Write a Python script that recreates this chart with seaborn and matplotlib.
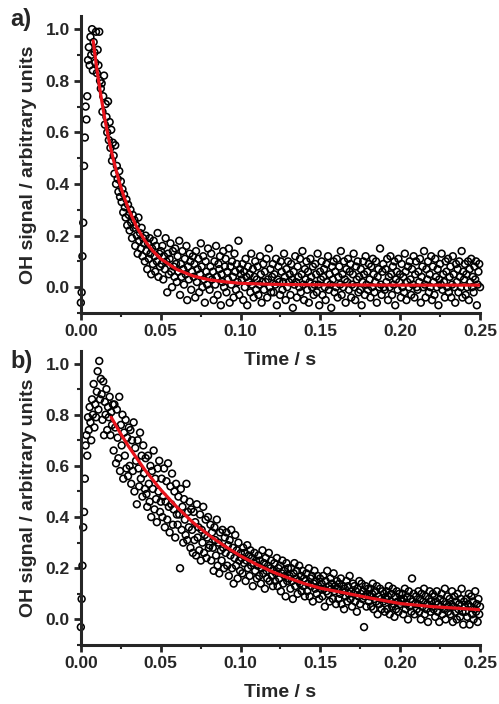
import numpy as np
import pandas as pd
import matplotlib
matplotlib.use("Agg")
import matplotlib.pyplot as plt
from matplotlib.ticker import MultipleLocator, FormatStrFormatter
import seaborn as sns

# ---------------- data (signal in hundredths of arbitrary units) ----------------
sig_a = [-6, -2, 12, 25, 47, 58, 70, 65, 74, 88, 93, 86, 97, 90, 100, 84, 95, 91, 87, 99, 83, 92, 86, 99, 80, 77,
         79, 68, 74, 82, 63, 71, 66, 60, 72, 57, 64, 54, 61, 49, 56,
         51, 44, 55, 40, 47, 42, 37, 45, 35, 41, 33, 38, 29, 36, 31, 27, 34, 24, 32, 28,
         22, 30, 25, 19, 28, 23, 26, 16, 24, 20, 13, 27, 18, 21, 15, 23, 12, 19, 17, 10,
         20, 14, 7, 17, 11, 19, 13, 5, 15, 9, 18, 12, 6, 16, 10, 21, 4, 13, 8, 14,
         9, 16, 3, 12, 7, 19, 10, -2, 13, 5, 11, 17, 6, 0, 14, 8, 4, 15, 9, 2,
         12, 6, 18, -3, 9, 4, 14, 7, 1, 11, 5, 16, -5, 8, 3, 13, 10, -1, 6, 12,
         4, 9, -4, 14, 2, 7, 11, -2, 5, 17, 8, 0, 12, 3, -6, 10, 6, 1, 15, 4,
         -1, 8, 13, 3, 6, -5, 10, 1, 16, 4, -3, 9, 7, 12, -7, 5, 2, 14, 0, 8,
         11, -2, 6, 3, 15, -6, 8, 1, 10, 4, -4, 13, 6, -1, 9, 2, 18, -3, 7, 5,
         3, 9, -5, 6, 0, 11, 4, -7, 8, 2, 5, -2, 13, 1, 7, -4, 4, 10, -1, 3,
         8, -3, 1, 12, 5, -6, 2, 9, -1, 6, 2, 11, -4, 3, 15, 0, 7, -2, 4, 9,
         -2, 5, 1, 11, -7, 3, 8, 2, -3, 10, 6, -1, 2, 13, 4, -5, 7, 0, 10, 2,
         5, -3, 9, 3, -8, 6, 1, 12, 2, -4, 8, 4, 0, 11, -2, 5, 14, 1, -5, 7,
         3, 10, -1, 6, -6, 2, 11, 4, 0, 8, -3, 1, 9, 5, -2, 13, 1, -7, 6, 3,
         10, -3, 4, 7, 0, -5, 9, 2, 12, -1, 5, 1, -8, 8, 3, 10, -2, 6, 0, 11,
         -4, 4, 8, 1, 14, -3, 5, 0, 10, 3, -6, 7, 2, 11, -1, 6, 9, -4, 1, 5,
         13, 0, -5, 8, 3, 10, -2, 4, -1, 7, -7, 2, 10, 5, -3, 12, 1, 6, -1, 9,
         3, -4, 8, 0, 11, 5, -2, 2, 10, -6, 4, 7, 0, 15, 1, -3, 6, 9, 0, -1,
         7, 2, 11, -5, 4, 0, 12, 5, -3, 8, 1, 10, -7, 3, 6, -1, 11, 2, 5, -4,
         9, 0, 4, -2, 13, 6, -5, 2, 8, 0, 10, 3, -3, 7, 1, 12, -4, 5, 10, 0,
         -1, 6, 2, 11, -6, 4, 8, 0, 14, 1, -4, 7, 3, 10, -2, 5, 0, 12, -5, 8,
         2, -3, 11, 4, 0, 7, -7, 3, 9, 1, 13, -1, 5, 2, -4, 10, 6, 0, 11, -2,
         4, 8, -4, 1, 12, 5, 0, -6, 9, 2, 7, -2, 10, 4, 0, 14, -4, 6, 3, 9,
         -3, 5, 0, 10, -5, 7, 2, 11, 0, 4, -2, 8, 3, 10, -7, 1, 6, 9, 0]

sig_b = [-3, 8, 21, 36, 42, 55, 68, 72, 64, 79, 74, 83, 77, 70, 86, 80, 92, 75, 84, 79, 89, 97, 82, 101, 86, 94,
         88, 78, 93, 72, 85, 80, 90, 74, 83, 79, 87, 72, 81, 76, 84,
         66, 84, 75, 61, 82, 71, 63, 87, 58, 76, 68, 80, 55, 73, 64, 78, 59, 71, 56, 75,
         60, 74, 53, 70, 58, 77, 50, 67, 62, 45, 70, 59, 52, 73, 55, 64, 48, 68, 57, 51,
         63, 49, 44, 64, 53, 46, 60, 40, 58, 51, 66, 43, 55, 47, 38, 59, 50, 62, 42, 46,
         55, 40, 48, 59, 36, 46, 54, 39, 61, 44, 34, 52, 45, 57, 37, 43, 50, 32, 53, 41,
         37, 48, 41, 20, 51, 35, 44, 30, 47, 39, 33, 53, 31, 42, 36, 46, 28, 43, 35, 26,
         42, 31, 38, 25, 45, 32, 36, 27, 41, 23, 35, 30, 44, 26, 33, 39, 24, 32, 40, 28,
         29, 37, 23, 34, 28, 19, 36, 31, 25, 39, 21, 30, 18, 34, 27, 23, 35, 28, 20, 32,
         26, 34, 21, 29, 17, 31, 25, 35, 20, 28, 14, 24, 33, 21, 27, 16, 30, 23, 19, 26,
         24, 18, 28, 22, 26, 15, 23, 29, 20, 25, 17, 27, 21, 24, 13, 22, 26, 19, 23, 16,
         21, 25, 17, 23, 14, 20, 27, 18, 22, 12, 24, 19, 16, 21, 26, 15, 20, 23, 17, 13,
         19, 22, 15, 18, 24, 13, 20, 16, 21, 11, 18, 23, 14, 19, 17, 9, 22, 15, 20, 16,
         17, 12, 20, 15, 8, 18, 22, 13, 16, 19, 10, 15, 21, 14, 17, 11, 19, 13, 16, 9,
         15, 18, 11, 14, 20, 9, 16, 13, 17, 7, 14, 19, 12, 15, 10, 17, 13, 8, 16, 12,
         14, 9, 17, 12, 5, 15, 11, 19, 10, 13, 7, 16, 12, 14, 8, 18, 11, 13, 6, 15,
         12, 8, 14, 10, 16, 6, 11, 13, 4, 12, 9, 15, 7, 13, 10, 17, 8, 11, 5, 14,
         10, 13, 7, 11, 3, 12, 9, 15, 6, 10, 14, 8, 11, -3, 9, 13, 5, 10, 12, 7,
         9, 12, 5, 10, 14, 4, 8, 11, 7, 13, 2, 9, 6, 12, 8, 4, 11, 7, 10, 3,
         8, 11, 4, 9, 13, 2, 7, 10, 5, 12, 6, 1, 9, 4, 11, 7, 3, 10, 6, 8,
         7, 10, 2, 8, 12, 4, 6, 9, 0, 11, 5, 8, 3, 16, 7, 10, 2, 6, 9, 4,
         6, 11, 3, 8, 0, 10, 5, 7, 12, 2, 9, 4, 6, -1, 8, 11, 3, 7, 5, 10,
         4, 9, 1, 7, 11, 3, 6, -1, 8, 5, 10, 2, 7, 4, 12, 0, 6, 9, 3, 5,
         8, 2, 6, 11, -1, 5, 9, 3, 7, 0, 10, 4, 6, 1, 8, 12, 3, -2, 7, 5,
         3, 8, 1, 6, 10, -2, 5, 9, 2, 7, 0, 4, 11, 3, 6, -1, 8, 2, 5]

fit_a_t = [0.0077, 0.010, 0.0125, 0.015, 0.0175, 0.020, 0.0225, 0.025, 0.0275, 0.030,
           0.035, 0.040, 0.045, 0.050, 0.060, 0.070, 0.080, 0.090, 0.100, 0.120,
           0.150, 0.200, 0.250]
fit_a_y = [0.955, 0.847, 0.744, 0.653, 0.573, 0.504, 0.443, 0.389, 0.342, 0.301,
           0.233, 0.181, 0.141, 0.110, 0.069, 0.044, 0.029, 0.021, 0.015, 0.011,
           0.009, 0.008, 0.008]

fit_b_t = [0.019, 0.025, 0.030, 0.040, 0.050, 0.060, 0.070, 0.080, 0.090, 0.100,
           0.110, 0.120, 0.130, 0.140, 0.150, 0.160, 0.180, 0.200, 0.220, 0.250]
fit_b_y = [0.79, 0.725, 0.675, 0.585, 0.507, 0.44, 0.38, 0.33, 0.287, 0.248,
           0.215, 0.186, 0.162, 0.14, 0.122, 0.11, 0.085, 0.062, 0.05, 0.038]

panel_labels = ["a)", "b)"]
x_label = "Time / s"
y_label = "OH signal / arbitrary units"

# ---------------- plotting ----------------
sns.set_style("ticks")
plt.rcParams['font.family'] = ['Liberation Sans', 'DejaVu Sans']
plt.rcParams['font.weight'] = 'bold'

fig = plt.figure(figsize=(4.99, 7.04), dpi=100)
ax_a = fig.add_axes([0.162, 0.5554, 0.800, 0.4215])
ax_b = fig.add_axes([0.162, 0.0838, 0.800, 0.418])

panels = [(ax_a, sig_a, fit_a_t, fit_a_y), (ax_b, sig_b, fit_b_t, fit_b_y)]
for ax, sig, ft, fy in panels:
    ax.patch.set_visible(False)
    df = pd.DataFrame({"t": np.linspace(0, 0.25, len(sig)), "s": np.array(sig) / 100.0})
    sns.scatterplot(data=df, x="t", y="s", ax=ax, marker="o", s=24,
                    facecolors="none", edgecolor="black", linewidth=1.15,
                    clip_on=False, zorder=2)
    dff = pd.DataFrame({"t": ft, "y": fy})
    sns.lineplot(data=dff, x="t", y="y", ax=ax, color="#e8141c", linewidth=2.3,
                 zorder=3, sort=True)
    ax.set_xlim(0, 0.25)
    ax.set_ylim(-0.1, 1.05)
    ax.xaxis.set_major_locator(MultipleLocator(0.05))
    ax.xaxis.set_minor_locator(MultipleLocator(0.025))
    ax.yaxis.set_major_locator(MultipleLocator(0.2))
    ax.yaxis.set_minor_locator(MultipleLocator(0.1))
    ax.xaxis.set_major_formatter(FormatStrFormatter('%.2f'))
    ax.yaxis.set_major_formatter(FormatStrFormatter('%.1f'))
    ax.set_yticks([0.0, 0.2, 0.4, 0.6, 0.8, 1.0])
    sns.despine(ax=ax)
    for sp in ("left", "bottom"):
        ax.spines[sp].set_linewidth(2.2)
    ax.tick_params(which="major", direction="out", length=5, width=2.0,
                   labelsize=12.5, pad=3)
    ax.tick_params(which="minor", direction="out", length=3, width=1.5)
    for lab in ax.get_xticklabels() + ax.get_yticklabels():
        lab.set_fontweight("bold")
    ax.set_xlabel(x_label, fontsize=14, fontweight="bold", labelpad=9)
    ax.set_ylabel(y_label, fontsize=14, fontweight="bold", labelpad=6)

fig.text(0.02, 0.972, panel_labels[0], fontsize=17, fontweight="bold", va="center")
fig.text(0.02, 0.486, panel_labels[1], fontsize=17, fontweight="bold", va="center")

fig.savefig("out.png", dpi=100)
